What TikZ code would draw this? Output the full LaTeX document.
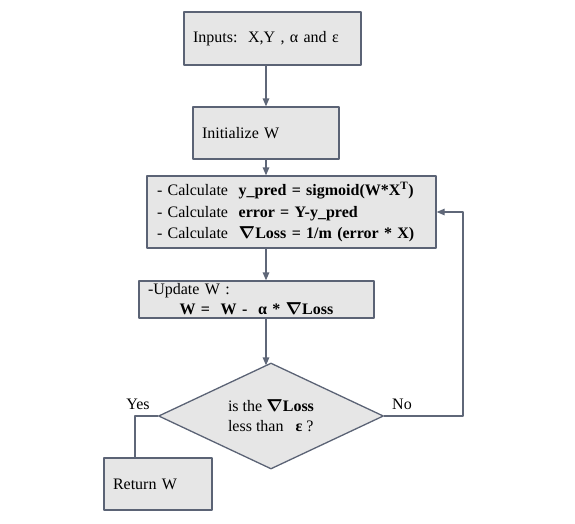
\documentclass[tikz,border=0pt]{standalone}
\usepackage{amsmath, amssymb, bm}
\usepackage{fontspec}
\setmainfont{Liberation Serif}
\usepackage{xcolor}
\usepackage{tikz}
\usetikzlibrary{arrows.meta}
\usetikzlibrary{shapes.geometric}
\setlength{\parindent}{0pt}

\definecolor{boxfill}{HTML}{E6E6E6}
\definecolor{boxline}{HTML}{5B6375}
\definecolor{flowline}{HTML}{5F6778}

\newcommand{\gradloss}{{\boldmath$\nabla$}\textbf{Loss}}

\tikzset{
    stepbox/.style={draw=boxline, fill=boxfill, line width=1.3pt, rectangle,
        inner xsep=9pt, inner ysep=0pt, align=left,
        font=\fontsize{16}{20}\selectfont},
    testbox/.style={draw=boxline, fill=boxfill, line width=1.3pt, diamond,
        aspect=2.12, inner sep=0pt, minimum width=225pt, minimum height=106pt,
        align=left, font=\fontsize{16}{20}\selectfont},
    flow/.style={draw=flowline, line width=1.3pt, -{Triangle[length=8pt,width=6.5pt]}},
    branch/.style={font=\fontsize{16}{20}\selectfont}
}

\begin{document}
\begin{tikzpicture}[x=1pt, y=-1pt, line cap=round, line join=round]

    \useasboundingbox (0,0) rectangle (575,523);

    \node[stepbox, text width=159pt, minimum height=53pt] (inputs) at (272.5,38.5)
        {Inputs:\ \ X,Y , α and ε};
    \node[stepbox, text width=128pt, minimum height=52pt] (init) at (266,133)
        {Initialize W};
    \node[stepbox, text width=269pt, minimum height=72pt, inner xsep=10pt,
          font=\fontsize{16}{21.5}\selectfont] (calc) at (291.5,212)
        {- Calculate\ \ \textbf{y\_pred = sigmoid(W*X\textsuperscript{T})}\\
         - Calculate\ \ \textbf{error = Y-y\_pred}\\
         - Calculate\ \ \gradloss\textbf{ = 1/m (error * X)}};
    \node[stepbox, text width=217pt, minimum height=37pt] (update) at (256.5,299.5)
        {-Update W :\par
         \centering\textbf{W =\ \ W -\ \ α * }\gradloss\par};
    \node[testbox] (dec) at (271,416)
        {is the \gradloss\\ less than\ \ \ \textbf{ε} ?};
    \node[stepbox, text width=90pt, minimum height=52pt] (ret) at (158,484)
        {Return W};

    \coordinate (noturn) at (463,416);
    \coordinate (yesturn) at (135,416);

    % main line
    \draw[flow] (init.north |- inputs.south) -- (init.north);
    \draw[flow] (init.south) -- (init.south |- calc.north);
    \draw[flow] (init.south |- calc.south) -- (init.south |- update.north);
    \draw[flow] (init.south |- update.south) -- ([yshift=-3pt]init.south |- dec.north);

    % branches
    \draw[flow] (dec.east) -- (noturn) -- (noturn |- calc.east) -- (calc.east);
    \draw[draw=flowline, line width=1.3pt] (dec.west) -- (yesturn) -- (yesturn |- ret.north);

    \node[branch] (nolabel) at (402,404) {No};
    \node[branch] (yeslabel) at (138,404) {Yes};

\end{tikzpicture}
\end{document}
